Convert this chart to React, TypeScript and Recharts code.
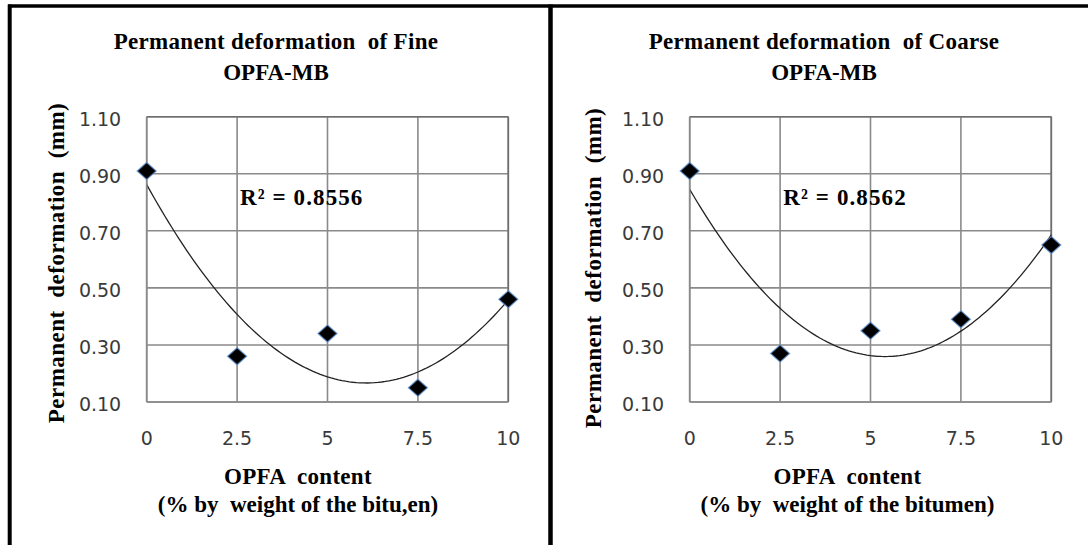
import React from 'react';
import {
  ComposedChart,
  Line,
  Scatter,
  XAxis,
  YAxis,
  CartesianGrid,
  ReferenceLine,
} from 'recharts';

// ---- Data ----
const opfaContent = [0, 2.5, 5, 7.5, 10];
const fineDeformation = [0.91, 0.26, 0.34, 0.15, 0.46];
const coarseDeformation = [0.91, 0.27, 0.35, 0.39, 0.65];
const xTicks = [0, 2.5, 5, 7.5, 10];
const yTicks = [0.1, 0.3, 0.5, 0.7, 0.9, 1.1];
const fineTitle = ['Permanent deformation  of Fine', 'OPFA-MB'];
const coarseTitle = ['Permanent deformation  of Coarse', 'OPFA-MB'];
const fineXLabel = ['OPFA  content', '(% by  weight of the bitu,en)'];
const coarseXLabel = ['OPFA  content', '(% by  weight of the bitumen)'];
const yLabel = 'Permanent  deformation  (mm)';
const fineR2 = 'R² = 0.8556';
const coarseR2 = 'R² = 0.8562';

// Polynomial (order 2) least-squares trendline, as in the spreadsheet
function quadFit(xs: number[], ys: number[]) {
  let s0 = 0, s1 = 0, s2 = 0, s3 = 0, s4 = 0, t0 = 0, t1 = 0, t2 = 0;
  xs.forEach((x, i) => {
    const y = ys[i];
    s0 += 1; s1 += x; s2 += x * x; s3 += x * x * x; s4 += x * x * x * x;
    t0 += y; t1 += x * y; t2 += x * x * y;
  });
  const M = [
    [s0, s1, s2, t0],
    [s1, s2, s3, t1],
    [s2, s3, s4, t2],
  ];
  for (let c = 0; c < 3; c++) {
    for (let r = c + 1; r < 3; r++) {
      const f = M[r][c] / M[c][c];
      for (let k = c; k < 4; k++) M[r][k] -= f * M[c][k];
    }
  }
  const coef = [0, 0, 0];
  for (let r = 2; r >= 0; r--) {
    let v = M[r][3];
    for (let k = r + 1; k < 3; k++) v -= M[r][k] * coef[k];
    coef[r] = v / M[r][r];
  }
  return coef;
}

function trendData(xs: number[], ys: number[]) {
  const [a, b, c] = quadFit(xs, ys);
  const pts: { x: number; fit: number }[] = [];
  for (let i = 0; i <= 100; i++) {
    const x = (i / 100) * (xs[xs.length - 1] - xs[0]) + xs[0];
    pts.push({ x, fit: a + b * x + c * x * x });
  }
  return pts;
}

const Diamond = (props: any) => {
  const { cx, cy } = props;
  if (cx == null || cy == null) return null;
  const w = 9.5, h = 8.5;
  return (
    <polygon
      points={`${cx},${cy - h} ${cx + w},${cy} ${cx},${cy + h} ${cx - w},${cy}`}
      fill="#000"
      stroke="#5b8fd0"
      strokeOpacity={0.75}
      strokeWidth={1.3}
    />
  );
};

const tickFont = { fontFamily: 'DejaVu Sans', fontSize: 19 };

const XTick = (p: any) => (
  <text
    x={p.x}
    y={p.y + 13.5}
    textAnchor="middle"
    fill="#3a3a3a"
    style={tickFont}
  >
    {p.payload.value}
  </text>
);

const YTick = (p: any) => (
  <text
    x={p.x}
    y={p.y + 8.8}
    textAnchor="end"
    fill="#3a3a3a"
    style={tickFont}
  >
    {Number(p.payload.value).toFixed(2)}
  </text>
);

function Panel({ xs, ys, left }: { xs: number[]; ys: number[]; left: number }) {
  const points = xs.map((x, i) => ({ x, y: ys[i] }));
  const trend = trendData(xs, ys);
  return (
    <div style={{ position: 'absolute', left, top: 0 }}>
      <ComposedChart
        width={544}
        height={545}
        data={trend}
        margin={{ top: 116.7, right: 35.7, bottom: 113, left: 86.7 }}
      >
        <CartesianGrid stroke="#8a8a8a" strokeWidth={1.6} />
        <XAxis
          type="number"
          dataKey="x"
          domain={[0, 10]}
          ticks={xTicks}
          interval={0}
          height={30}
          tickSize={0}
          tickMargin={29}
          tickLine={false}
          axisLine={{ stroke: '#8a8a8a', strokeWidth: 1.6 }}
          tick={<XTick />}
        />
        <YAxis
          type="number"
          domain={[0.1, 1.1]}
          ticks={yTicks}
          interval={0}
          width={60}
          tickSize={0}
          tickMargin={25.5}
          tickLine={false}
          axisLine={{ stroke: '#8a8a8a', strokeWidth: 1.6 }}
          tick={<YTick />}
        />
        <ReferenceLine y={1.1} stroke="#6e6e6e" strokeWidth={1.6} />
        <ReferenceLine x={10} stroke="#6e6e6e" strokeWidth={1.6} />
        <Line
          type="linear"
          dataKey="fit"
          stroke="#222"
          strokeWidth={1.3}
          dot={false}
          activeDot={false}
          isAnimationActive={false}
        />
        <Scatter
          data={points}
          dataKey="y"
          shape={<Diamond />}
          isAnimationActive={false}
        />
      </ComposedChart>
    </div>
  );
}

const serif: React.CSSProperties = {
  fontFamily: '"Liberation Serif", "Times New Roman", serif',
  fontWeight: 'bold',
  fontSize: 23,
  whiteSpace: 'pre',
};

function Texts({ dx, title, xLabel, r2, titleCx, xCx, yLx, yLy }: any) {
  return (
    <g>
      <text x={titleCx} y={48.5} textAnchor="middle" style={{ ...serif, letterSpacing: 0.3 }} fill="#000">
        {title[0]}
      </text>
      <text x={titleCx} y={79.5} textAnchor="middle" style={{ ...serif, letterSpacing: 0 }} fill="#000">
        {title[1]}
      </text>
      <text x={xCx} y={483.5} textAnchor="middle" style={{ ...serif, letterSpacing: 0.3 }} fill="#000">
        {xLabel[0]}
      </text>
      <text x={xCx} y={512} textAnchor="middle" style={{ ...serif, letterSpacing: 0 }} fill="#000">
        {xLabel[1]}
      </text>
      <text
        x={yLx}
        y={yLy}
        textAnchor="middle"
        transform={`rotate(-90, ${yLx}, ${yLy})`}
        style={{ ...serif, letterSpacing: 0.5 }}
        fill="#000"
      >
        {yLabel}
      </text>
      <text x={240 + dx} y={205} style={{ ...serif, letterSpacing: 1.1 }} fill="#000">
        {r2}
      </text>
    </g>
  );
}

export default function App() {
  return (
    <div
      style={{
        position: 'absolute',
        left: 0,
        top: 0,
        width: 1088,
        height: 545,
        background: '#fff',
        overflow: 'hidden',
      }}
    >
      <Panel xs={opfaContent} ys={fineDeformation} left={0} />
      <Panel xs={opfaContent} ys={coarseDeformation} left={543.3} />
      <svg
        width={1088}
        height={545}
        style={{ position: 'absolute', left: 0, top: 0, pointerEvents: 'none' }}
      >
        <line x1={8} y1={6} x2={1088} y2={6} stroke="#000" strokeWidth={3.5} />
        <line x1={9.7} y1={4.5} x2={9.7} y2={545} stroke="#000" strokeWidth={4} />
        <line x1={550.5} y1={4.5} x2={550.5} y2={545} stroke="#000" strokeWidth={4.5} />
        <Texts
          dx={0}
          title={fineTitle}
          xLabel={fineXLabel}
          r2={fineR2}
          titleCx={276}
          xCx={298}
          yLx={64}
          yLy={263}
        />
        <Texts
          dx={543.3}
          title={coarseTitle}
          xLabel={coarseXLabel}
          r2={coarseR2}
          titleCx={824}
          xCx={847.5}
          yLx={601}
          yLy={268}
        />
      </svg>
    </div>
  );
}
